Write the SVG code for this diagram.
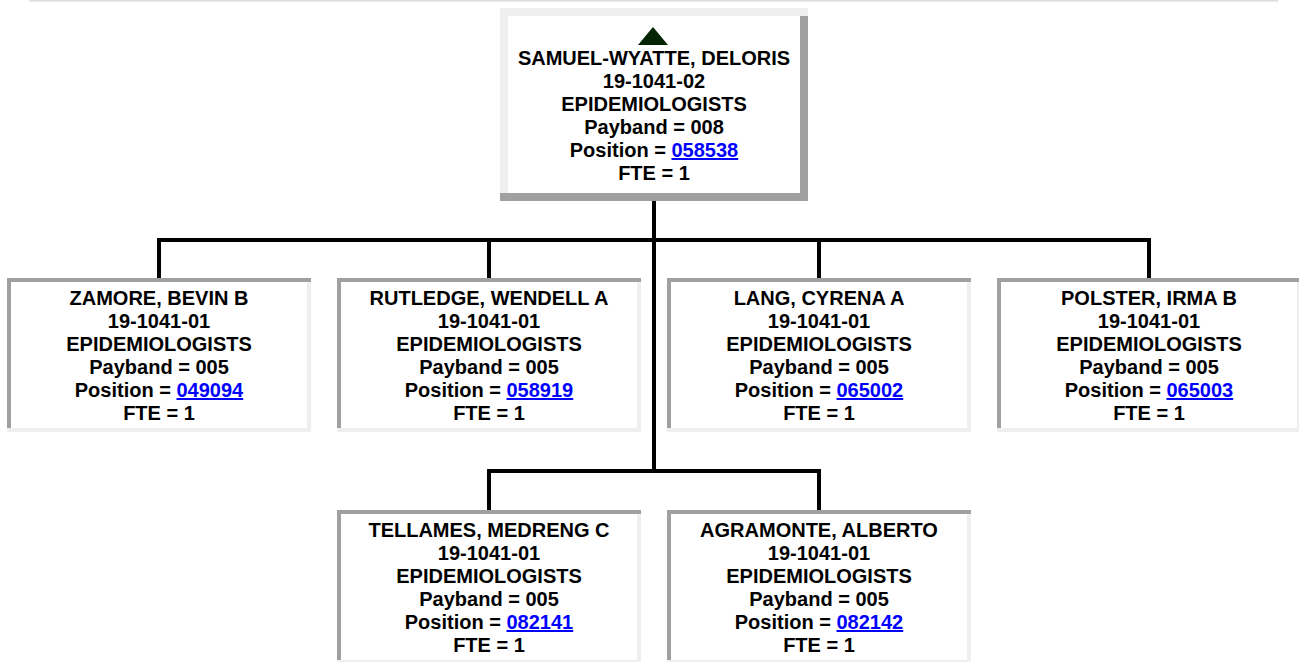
<svg xmlns="http://www.w3.org/2000/svg" width="1299" height="662" viewBox="0 0 1299 662">
<style>
  .t { font-family: "Liberation Sans", Arial, sans-serif; font-weight: bold; font-size: 20px; fill: #000; text-anchor: middle; }
  .lnk { fill: #0000ff; text-decoration: underline; }
  .dk { fill: #a0a0a0; }
  .lt { fill: #efefef; }
  .wh { fill: #ffffff; }
  .ln { fill: #000; }
</style>
<rect x="0" y="0" width="1299" height="662" fill="#ffffff"/>
<rect x="29" y="0" width="1249" height="1.5" fill="#dcdcdc"/>

<g id="connectors">
  <rect class="ln" x="652" y="201" width="4" height="272"/>
  <rect class="ln" x="157" y="238" width="994" height="4"/>
  <rect class="ln" x="157" y="238" width="4" height="40"/>
  <rect class="ln" x="487" y="238" width="4" height="40"/>
  <rect class="ln" x="817" y="238" width="4" height="40"/>
  <rect class="ln" x="1147" y="238" width="4" height="40"/>
  <rect class="ln" x="487" y="469" width="334" height="4"/>
  <rect class="ln" x="487" y="469" width="4" height="41"/>
  <rect class="ln" x="817" y="469" width="4" height="41"/>
</g>

<g id="node-samuel-wyatte">
  <rect class="lt" x="500" y="8" width="308" height="193"/>
  <rect class="dk" x="800" y="16" width="8" height="185"/>
  <rect class="dk" x="500" y="193" width="308" height="8"/>
  <rect class="wh" x="508" y="16" width="292" height="177"/>
  <polygon points="653,27 668,45 638,45" fill="#042404"/>
  <text class="t" x="654" y="65">SAMUEL-WYATTE, DELORIS</text>
  <text class="t" x="654" y="88">19-1041-02</text>
  <text class="t" x="654" y="111">EPIDEMIOLOGISTS</text>
  <text class="t" x="654" y="134">Payband = 008</text>
  <text class="t" x="654" y="157">Position = <tspan class="lnk">058538</tspan></text>
  <text class="t" x="654" y="180">FTE = 1</text>
</g>

<g id="node-zamore" transform="translate(7,278)">
  <rect class="lt" x="0" y="0" width="304" height="154"/>
  <rect class="dk" x="0" y="0" width="304" height="4"/>
  <rect class="dk" x="0" y="0" width="4" height="150"/>
  <rect class="wh" x="4" y="4" width="296" height="146"/>
  <text class="t" x="152" y="27">ZAMORE, BEVIN B</text>
  <text class="t" x="152" y="50">19-1041-01</text>
  <text class="t" x="152" y="73">EPIDEMIOLOGISTS</text>
  <text class="t" x="152" y="96">Payband = 005</text>
  <text class="t" x="152" y="119">Position = <tspan class="lnk">049094</tspan></text>
  <text class="t" x="152" y="142">FTE = 1</text>
</g>

<g id="node-rutledge" transform="translate(337,278)">
  <rect class="lt" x="0" y="0" width="304" height="154"/>
  <rect class="dk" x="0" y="0" width="304" height="4"/>
  <rect class="dk" x="0" y="0" width="4" height="150"/>
  <rect class="wh" x="4" y="4" width="296" height="146"/>
  <text class="t" x="152" y="27">RUTLEDGE, WENDELL A</text>
  <text class="t" x="152" y="50">19-1041-01</text>
  <text class="t" x="152" y="73">EPIDEMIOLOGISTS</text>
  <text class="t" x="152" y="96">Payband = 005</text>
  <text class="t" x="152" y="119">Position = <tspan class="lnk">058919</tspan></text>
  <text class="t" x="152" y="142">FTE = 1</text>
</g>

<g id="node-lang" transform="translate(667,278)">
  <rect class="lt" x="0" y="0" width="304" height="154"/>
  <rect class="dk" x="0" y="0" width="304" height="4"/>
  <rect class="dk" x="0" y="0" width="4" height="150"/>
  <rect class="wh" x="4" y="4" width="296" height="146"/>
  <text class="t" x="152" y="27">LANG, CYRENA A</text>
  <text class="t" x="152" y="50">19-1041-01</text>
  <text class="t" x="152" y="73">EPIDEMIOLOGISTS</text>
  <text class="t" x="152" y="96">Payband = 005</text>
  <text class="t" x="152" y="119">Position = <tspan class="lnk">065002</tspan></text>
  <text class="t" x="152" y="142">FTE = 1</text>
</g>

<g id="node-polster" transform="translate(997,278)">
  <rect class="lt" x="0" y="0" width="304" height="154"/>
  <rect class="dk" x="0" y="0" width="304" height="4"/>
  <rect class="dk" x="0" y="0" width="4" height="150"/>
  <rect class="wh" x="4" y="4" width="296" height="146"/>
  <text class="t" x="152" y="27">POLSTER, IRMA B</text>
  <text class="t" x="152" y="50">19-1041-01</text>
  <text class="t" x="152" y="73">EPIDEMIOLOGISTS</text>
  <text class="t" x="152" y="96">Payband = 005</text>
  <text class="t" x="152" y="119">Position = <tspan class="lnk">065003</tspan></text>
  <text class="t" x="152" y="142">FTE = 1</text>
</g>

<g id="node-tellames" transform="translate(337,510)">
  <rect class="lt" x="0" y="0" width="304" height="154"/>
  <rect class="dk" x="0" y="0" width="304" height="4"/>
  <rect class="dk" x="0" y="0" width="4" height="150"/>
  <rect class="wh" x="4" y="4" width="296" height="146"/>
  <text class="t" x="152" y="27">TELLAMES, MEDRENG C</text>
  <text class="t" x="152" y="50">19-1041-01</text>
  <text class="t" x="152" y="73">EPIDEMIOLOGISTS</text>
  <text class="t" x="152" y="96">Payband = 005</text>
  <text class="t" x="152" y="119">Position = <tspan class="lnk">082141</tspan></text>
  <text class="t" x="152" y="142">FTE = 1</text>
</g>

<g id="node-agramonte" transform="translate(667,510)">
  <rect class="lt" x="0" y="0" width="304" height="154"/>
  <rect class="dk" x="0" y="0" width="304" height="4"/>
  <rect class="dk" x="0" y="0" width="4" height="150"/>
  <rect class="wh" x="4" y="4" width="296" height="146"/>
  <text class="t" x="152" y="27">AGRAMONTE, ALBERTO</text>
  <text class="t" x="152" y="50">19-1041-01</text>
  <text class="t" x="152" y="73">EPIDEMIOLOGISTS</text>
  <text class="t" x="152" y="96">Payband = 005</text>
  <text class="t" x="152" y="119">Position = <tspan class="lnk">082142</tspan></text>
  <text class="t" x="152" y="142">FTE = 1</text>
</g>
</svg>
